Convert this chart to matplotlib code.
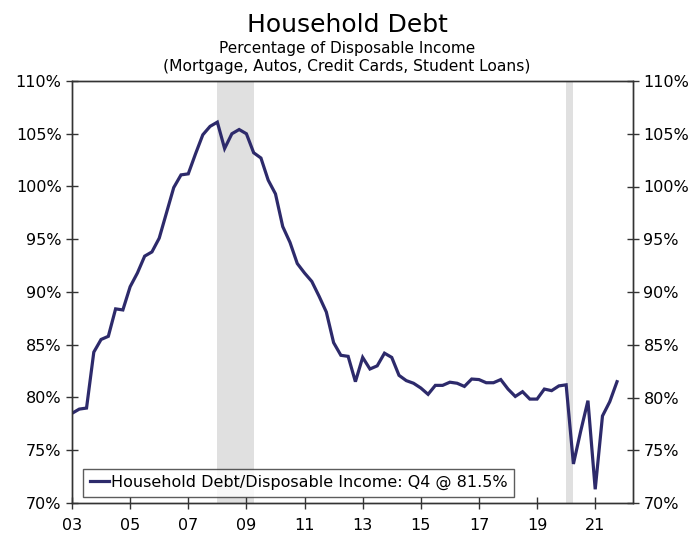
import matplotlib
matplotlib.use("Agg")
import matplotlib.pyplot as plt
from matplotlib.ticker import FuncFormatter, FixedLocator

# Household debt as a share of disposable income, quarterly 2003Q1-2021Q4 (%)
start_year = 2003
debt_to_income = [
    78.5, 78.9, 79.0, 84.3,   # 2003
    85.5, 85.8, 88.4, 88.3,   # 2004
    90.5, 91.8, 93.4, 93.8,   # 2005
    95.1, 97.5, 99.9, 101.1,  # 2006
    101.2, 103.1, 104.9, 105.7,  # 2007
    106.1, 103.6, 105.0, 105.4,  # 2008
    105.0, 103.2, 102.7, 100.6,  # 2009
    99.3, 96.2, 94.7, 92.7,   # 2010
    91.8, 91.0, 89.6, 88.1,   # 2011
    85.2, 84.0, 83.9, 81.5,   # 2012
    83.8, 82.7, 83.0, 84.2,   # 2013
    83.8, 82.1, 81.6, 81.35,  # 2014
    80.9, 80.3, 81.15, 81.15,  # 2015
    81.45, 81.35, 81.05, 81.75,  # 2016
    81.7, 81.4, 81.4, 81.7,   # 2017
    80.8, 80.1, 80.55, 79.85,  # 2018
    79.85, 80.8, 80.65, 81.1,  # 2019
    81.2, 73.7, 76.8, 79.7,   # 2020
    71.3, 78.25, 79.6, 81.5,  # 2021
]
quarters = [start_year + i / 4 for i in range(len(debt_to_income))]

# Recession periods (decimal years)
recessions = [(2008.0, 2009.25), (2020.0, 2020.25)]

year_ticks = list(range(2003, 2022, 2))
year_labels = [f"{y % 100:02d}" for y in year_ticks]
pct_ticks = [70, 75, 80, 85, 90, 95, 100, 105, 110]

line_color = "#2d2a6b"
axis_color = "#333333"

plt.rcParams["font.family"] = ["DejaVu Sans"]

fig = plt.figure(figsize=(6.94, 5.34), dpi=100)
ax = fig.add_axes([72 / 694, 1 - 503 / 534, (633 - 72) / 694, (503 - 81) / 534])

for r0, r1 in recessions:
    ax.axvspan(r0, r1, color="#e0e0e0", lw=0, zorder=0)

ax.plot(quarters, debt_to_income, color=line_color, lw=2.3, zorder=3,
        solid_joinstyle="miter",
        label="Household Debt/Disposable Income: Q4 @ 81.5%")

ax.set_xlim(2003.0, 2022.3)
ax.set_ylim(70, 110)
ax.xaxis.set_major_locator(FixedLocator(year_ticks))
ax.set_xticklabels(year_labels)
ax.yaxis.set_major_locator(FixedLocator(pct_ticks))
pct_fmt = FuncFormatter(lambda v, _: f"{v:.0f}%")
ax.yaxis.set_major_formatter(pct_fmt)

ax2 = ax.twinx()
ax2.set_ylim(ax.get_ylim())
ax2.yaxis.set_major_locator(FixedLocator(pct_ticks))
ax2.yaxis.set_major_formatter(pct_fmt)

for a in (ax, ax2):
    for s in a.spines.values():
        s.set_color(axis_color)
        s.set_linewidth(1.0)
    a.tick_params(direction="inout", length=9, width=1.0, color=axis_color,
                  labelsize=11.5, labelcolor="black", pad=3)
ax.tick_params(axis="x", pad=6)

leg = ax.legend(loc="lower left", bbox_to_anchor=(0.02, 0.015), frameon=True,
                fancybox=False, fontsize=11.5, handlelength=1.2,
                handletextpad=0.15, borderpad=0.4, borderaxespad=0)
leg.get_frame().set_edgecolor(axis_color)
leg.get_frame().set_linewidth(1.0)
leg.set_zorder(5)

fig.text(0.5, 1 - 25 / 534, "Household Debt", ha="center", va="center", fontsize=18)
fig.text(0.5, 1 - 48 / 534, "Percentage of Disposable Income", ha="center",
         va="center", fontsize=11)
fig.text(0.5, 1 - 67 / 534, "(Mortgage, Autos, Credit Cards, Student Loans)",
         ha="center", va="center", fontsize=11.2)

fig.savefig("out.png", dpi=100)
